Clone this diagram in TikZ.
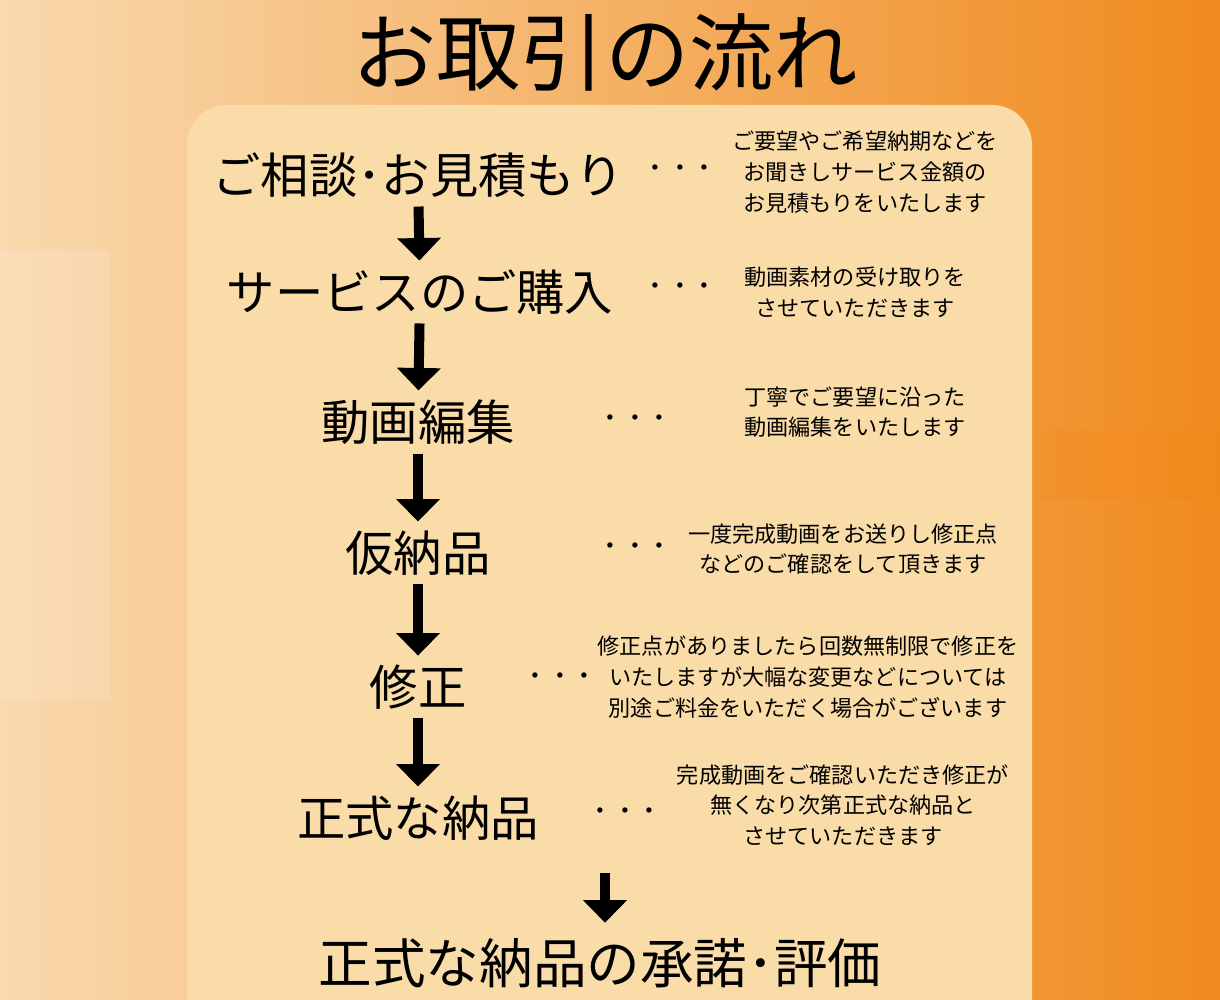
\documentclass[tikz,border=0pt]{standalone}
\usepackage{fontspec}
\setmainfont{Noto Sans CJK JP}
\usetikzlibrary{arrows.meta,positioning}
\definecolor{panel}{HTML}{F9DCA8}
\definecolor{bgleft}{HTML}{F9D9AE}
\definecolor{bgright}{HTML}{F08A1E}

\begin{document}
\begin{tikzpicture}[
      x=0.02cm, y=-0.02cm,
      stage/.style={font={\fontsize{27.5}{30}\selectfont}, inner sep=2pt},
      dots/.style={font={\fontsize{18}{20}\selectfont}},
      note/.style={font={\fontsize{12.6}{17.5}\selectfont}, align=center},
      down/.style={draw, line width=0.2cm, -{Triangle[width=0.85cm,length=0.45cm]}, shorten >=3pt, shorten <=3pt}
  ]
  \useasboundingbox (0,0) rectangle (1220,1000);
  \shade[left color=bgleft, right color=bgright] (0,0) rectangle (1220,1000);
  \fill[white, opacity=0.12] (0,250) rectangle (110,700);
  \fill[orange, opacity=0.12] (1040,430) rectangle (1220,500);
  \fill[panel, rounded corners=0.8cm] (187,105) rectangle (1032,1040);

  \node[font={\fontsize{48}{52}\selectfont}] (title) at (605,52) {お取引の流れ};

  % stages
  \node[stage] (s1) at (418,175) {ご相談･お見積もり};
  \node[stage] (s2) at (420,292) {サービスのご購入};
  \node[stage] (s3) at (418,422) {動画編集};
  \node[stage] (s4) at (418,553) {仮納品};
  \node[stage] (s5) at (418,687) {修正};
  \node[stage] (s6) at (418,818) {正式な納品};
  \node[stage, font={\fontsize{30.5}{33}\selectfont}] (s7) at (600,963) {正式な納品の承諾･評価};
  \coordinate (f0) at (605,868);
  \coordinate (f1) at (605,928);

  % dots
  \node[dots] (d1) at (680,172) {･\;･\;･};
  \node[dots] (d2) at (680,290) {･\;･\;･};
  \node[dots] (d3) at (635,422) {･\;･\;･};
  \node[dots] (d4) at (635,550) {･\;･\;･};
  \node[dots] (d5) at (560,680) {･\;･\;･};
  \node[dots] (d6) at (625,815) {･\;･\;･};

  % notes
  \node[note] (n1) at (865,172) {ご要望やご希望納期などを\\お聞きしサービス金額の\\お見積もりをいたします};
  \node[note] (n2) at (855,292) {動画素材の受け取りを\\させていただきます};
  \node[note] (n3) at (855,412) {丁寧でご要望に沿った\\動画編集をいたします};
  \node[note] (n4) at (843,549) {一度完成動画をお送りし修正点\\などのご確認をして頂きます};
  \node[note] (n5) at (808,677) {修正点がありましたら回数無制限で修正を\\いたしますが大幅な変更などについては\\別途ご料金をいただく場合がございます};
  \node[note] (n6) at (843,805) {完成動画をご確認いただき修正が\\無くなり次第正式な納品と\\させていただきます};

  % arrows
  \draw[down] (s1) -- (s2);
  \draw[down] (s2) -- (s3);
  \draw[down] (s3) -- (s4);
  \draw[down] (s4) -- (s5);
  \draw[down] (s5) -- (s6);
  \draw[down] (f0) -- (f1);
\end{tikzpicture}
\end{document}
